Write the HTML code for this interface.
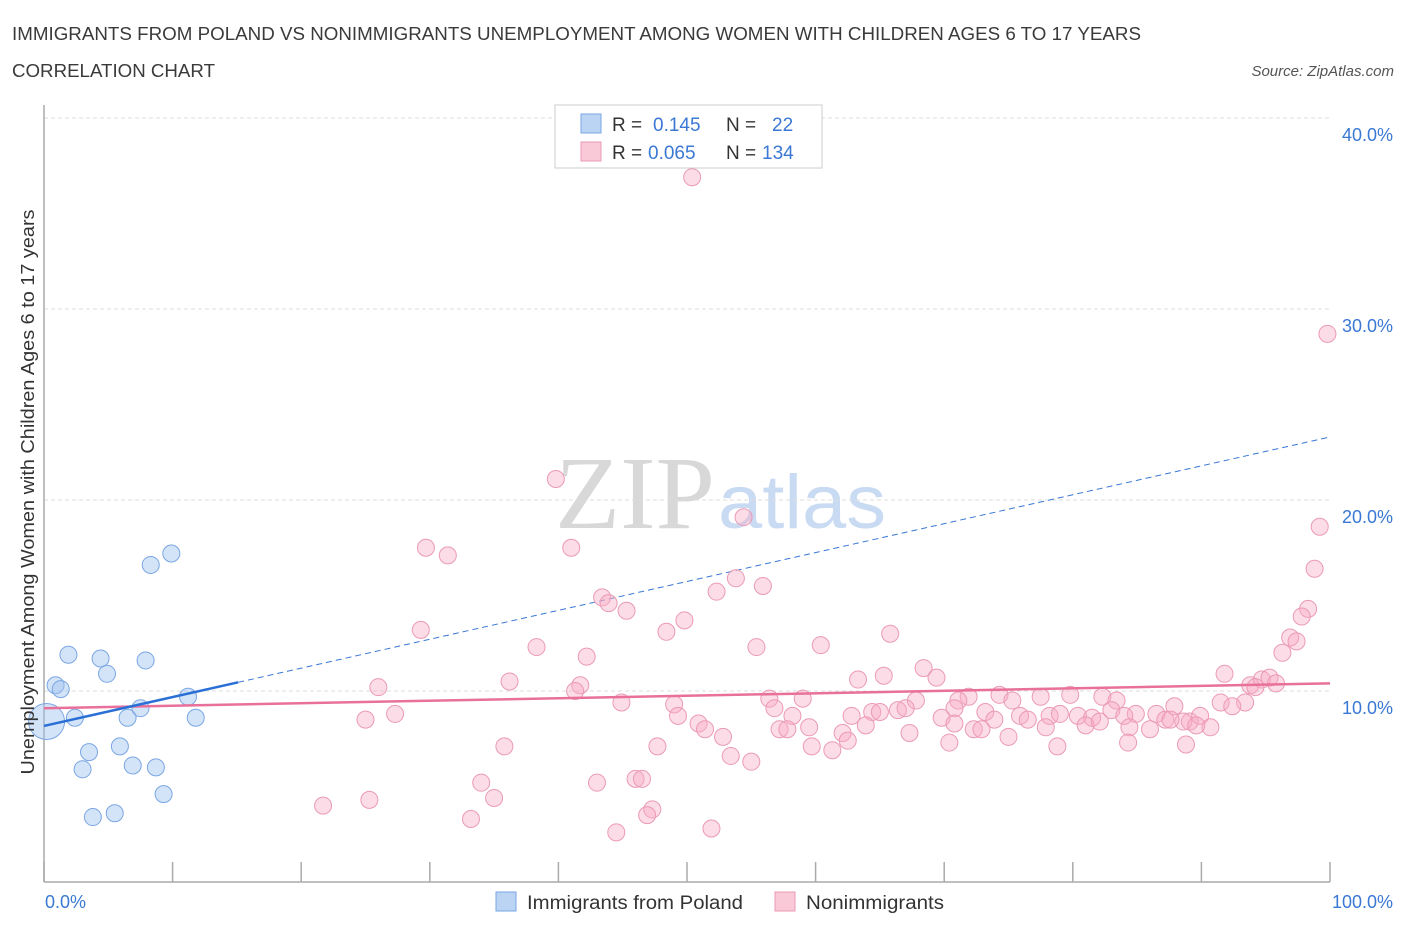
<!DOCTYPE html>
<html><head><meta charset="utf-8">
<style>
body{margin:0;background:#fff;font-family:"Liberation Sans",sans-serif;}
svg text{font-family:"Liberation Sans",sans-serif;}
</style></head><body>
<svg width="1406" height="930" xmlns="http://www.w3.org/2000/svg">
<text x="12" y="40" font-size="18" fill="#3a3a3a" textLength="1129" lengthAdjust="spacingAndGlyphs">IMMIGRANTS FROM POLAND VS NONIMMIGRANTS UNEMPLOYMENT AMONG WOMEN WITH CHILDREN AGES 6 TO 17 YEARS</text>
<text x="12" y="77" font-size="18" fill="#3a3a3a" textLength="203" lengthAdjust="spacingAndGlyphs">CORRELATION CHART</text>
<text x="1394" y="76" font-size="15" fill="#555" text-anchor="end" font-style="italic">Source: ZipAtlas.com</text>
<g>
<text x="555" y="528" font-size="104" fill="#d8d8d8" textLength="160" lengthAdjust="spacingAndGlyphs" style="font-family:'Liberation Serif',serif">ZIP</text>
<text x="718" y="528" font-size="76" fill="#c9dbf2" textLength="168" lengthAdjust="spacingAndGlyphs">atlas</text>
</g>
<g id="grid"></g>
<g id="axes"></g>
<g id="lines"></g>
<g id="pts"></g>
<text x="34" y="492" font-size="18" fill="#333" text-anchor="middle" textLength="565" lengthAdjust="spacingAndGlyphs" transform="rotate(-90 34 492)">Unemployment Among Women with Children Ages 6 to 17 years</text>
<text x="45" y="908" font-size="18" fill="#3a78d4">0.0%</text>
<text x="1393" y="908" font-size="18" fill="#3a78d4" text-anchor="end">100.0%</text>
<g>
<rect x="555" y="105" width="267" height="63" fill="#fff" stroke="#ccc"/>
<rect x="581" y="114" width="20" height="19" fill="#bcd4f4" stroke="#7aa6e4"/>
<rect x="581" y="142" width="20" height="19" fill="#fac9d8" stroke="#eb9ab5"/>
<text x="612" y="131" font-size="19" fill="#333">R =</text>
<text x="653" y="131" font-size="19" fill="#3a78d4">0.145</text>
<text x="726" y="131" font-size="19" fill="#333">N =</text>
<text x="772" y="131" font-size="19" fill="#3a78d4">22</text>
<text x="612" y="159" font-size="19" fill="#333">R =</text>
<text x="648" y="159" font-size="19" fill="#3a78d4">0.065</text>
<text x="726" y="159" font-size="19" fill="#333">N =</text>
<text x="762" y="159" font-size="19" fill="#3a78d4">134</text>
</g>
<g>
<rect x="496" y="892" width="20" height="19" fill="#bcd4f4" stroke="#7aa6e4"/>
<text x="527" y="909" font-size="19" fill="#333" textLength="216" lengthAdjust="spacingAndGlyphs">Immigrants from Poland</text>
<rect x="775" y="892" width="20" height="19" fill="#fac9d8" stroke="#eb9ab5"/>
<text x="806" y="909" font-size="19" fill="#333" textLength="138" lengthAdjust="spacingAndGlyphs">Nonimmigrants</text>
</g>
</svg>
<script>
const yTicks=[10,20,30,40];
const yTickLabels=["10.0%","20.0%","30.0%","40.0%"];
const xTicks=[0,10,20,30,40,50,60,70,80,90,100];
const blueX=[0.2,0.9,1.3,1.9,2.4,3.0,3.5,3.8,4.4,4.9,5.5,5.9,6.5,6.9,7.5,7.9,8.3,8.7,9.3,9.9,11.2,11.8];
const blueY=[8.4,10.3,10.1,11.9,8.6,5.9,6.8,3.4,11.7,10.9,3.6,7.1,8.6,6.1,9.1,11.6,16.6,6.0,4.6,17.2,9.7,8.6];
const pinkX=[50.4,99.8,39.8,54.4,99.2,29.7,31.4,41.0,98.8,53.8,55.9,52.3,43.4,43.9,45.3,98.3,97.8,29.3,49.8,48.4,65.8,96.9,97.4,38.3,60.4,55.4,42.2,96.3,68.4,69.4,63.3,65.3,91.8,36.2,26.0,41.7,41.3,93.8,94.7,95.3,95.8,94.2,59.0,71.9,74.3,77.5,79.8,82.3,83.4,44.9,49.0,56.4,67.8,71.1,75.3,84.9,87.9,91.5,93.4,92.4,27.3,25.0,49.3,50.9,51.4,52.8,56.8,58.2,62.8,64.4,65.0,66.4,67.0,69.8,70.8,73.2,73.9,75.9,76.5,78.2,79.0,80.4,81.5,83.0,84.0,86.5,87.2,89.1,89.9,90.7,57.2,57.8,59.5,62.1,62.5,63.9,67.3,70.8,72.3,75.0,77.9,81.0,82.1,84.4,86.0,88.6,89.6,35.8,47.7,59.7,61.3,70.4,78.8,84.3,88.8,53.4,55.0,46.0,46.5,34.0,43.0,35.0,25.3,21.7,47.3,46.9,33.2,44.5,51.9,87.6,72.9];
const pinkY=[36.9,28.7,21.1,19.1,18.6,17.5,17.1,17.5,16.4,15.9,15.5,15.2,14.9,14.6,14.2,14.3,13.9,13.2,13.7,13.1,13.0,12.8,12.6,12.3,12.4,12.3,11.8,12.0,11.2,10.7,10.6,10.8,10.9,10.5,10.2,10.3,10.0,10.3,10.6,10.7,10.4,10.2,9.6,9.7,9.8,9.7,9.8,9.7,9.5,9.4,9.3,9.6,9.5,9.5,9.5,8.8,9.2,9.4,9.4,9.2,8.8,8.5,8.7,8.3,8.0,7.6,9.1,8.7,8.7,8.9,8.9,9.0,9.1,8.6,9.1,8.9,8.5,8.7,8.5,8.7,8.8,8.7,8.6,9.0,8.7,8.8,8.5,8.4,8.7,8.1,8.0,8.0,8.1,7.8,7.4,8.2,7.8,8.3,8.0,7.6,8.1,8.2,8.4,8.1,8.0,8.4,8.2,7.1,7.1,7.1,6.9,7.3,7.1,7.3,7.2,6.6,6.3,5.4,5.4,5.2,5.2,4.4,4.3,4.0,3.8,3.5,3.3,2.6,2.8,8.5,8.0];
const blueTrend=[8.17,23.3];
const blueSolidEnd=15.1;
const pinkTrend=[9.1,10.4];

const NS="http://www.w3.org/2000/svg";
const xS=v=>44+v*12.86;
const yS=v=>882-v*19.1;
function mk(tag,attrs,parent){const e=document.createElementNS(NS,tag);for(const k in attrs)e.setAttribute(k,attrs[k]);document.getElementById(parent).appendChild(e);return e;}
yTicks.forEach((t,i)=>{
  const g=mk('line',{x1:44,x2:1330,y1:yS(t),y2:yS(t),stroke:'#ddd','stroke-dasharray':'4,3'},'grid');
  
  
  const l=mk('text',{x:1393,y:yS(t)+23,'font-size':18,fill:'#3a78d4','text-anchor':'end'},'grid');
  l.textContent=yTickLabels[i];
  
  
});
const ax=mk('line',{x1:44,x2:44,y1:105,y2:882,stroke:'#aaa','stroke-width':1.5},'axes');


const bx=mk('line',{x1:44,x2:1330,y1:882,y2:882,stroke:'#aaa','stroke-width':1.5},'axes');


xTicks.forEach(t=>{
  const e=mk('line',{x1:xS(t),x2:xS(t),y1:862,y2:882,stroke:'#aaa','stroke-width':1.5},'axes');
  
  
});
const bt=v=>blueTrend[0]+(blueTrend[1]-blueTrend[0])*v/100;
const pt=v=>pinkTrend[0]+(pinkTrend[1]-pinkTrend[0])*v/100;
const bd=mk('line',{x1:xS(blueSolidEnd),y1:yS(bt(blueSolidEnd)),x2:xS(100),y2:yS(bt(100)),stroke:'#3a78d4','stroke-width':1,'stroke-dasharray':'6,4'},'lines');


pinkX.forEach((x,i)=>{
  const c=mk('circle',{cx:xS(x),cy:yS(pinkY[i]),r:8.5,fill:'rgba(247,170,196,0.4)',stroke:'#eb9ab5','stroke-width':1},'pts');
  
  
});
blueX.forEach((x,i)=>{
  const c=mk('circle',{cx:xS(x),cy:yS(blueY[i]),r:i===0?18:8.5,fill:'rgba(160,195,240,0.45)',stroke:'#7aa6e4','stroke-width':1},'pts');
  
  
});
const pl=mk('line',{x1:xS(0),y1:yS(pt(0)),x2:xS(100),y2:yS(pt(100)),stroke:'#e8709a','stroke-width':2.5},'pts');


const bl=mk('line',{x1:xS(0),y1:yS(bt(0)),x2:xS(blueSolidEnd),y2:yS(bt(blueSolidEnd)),stroke:'#2a6fd6','stroke-width':2.5},'pts');


</script>
</body></html>
